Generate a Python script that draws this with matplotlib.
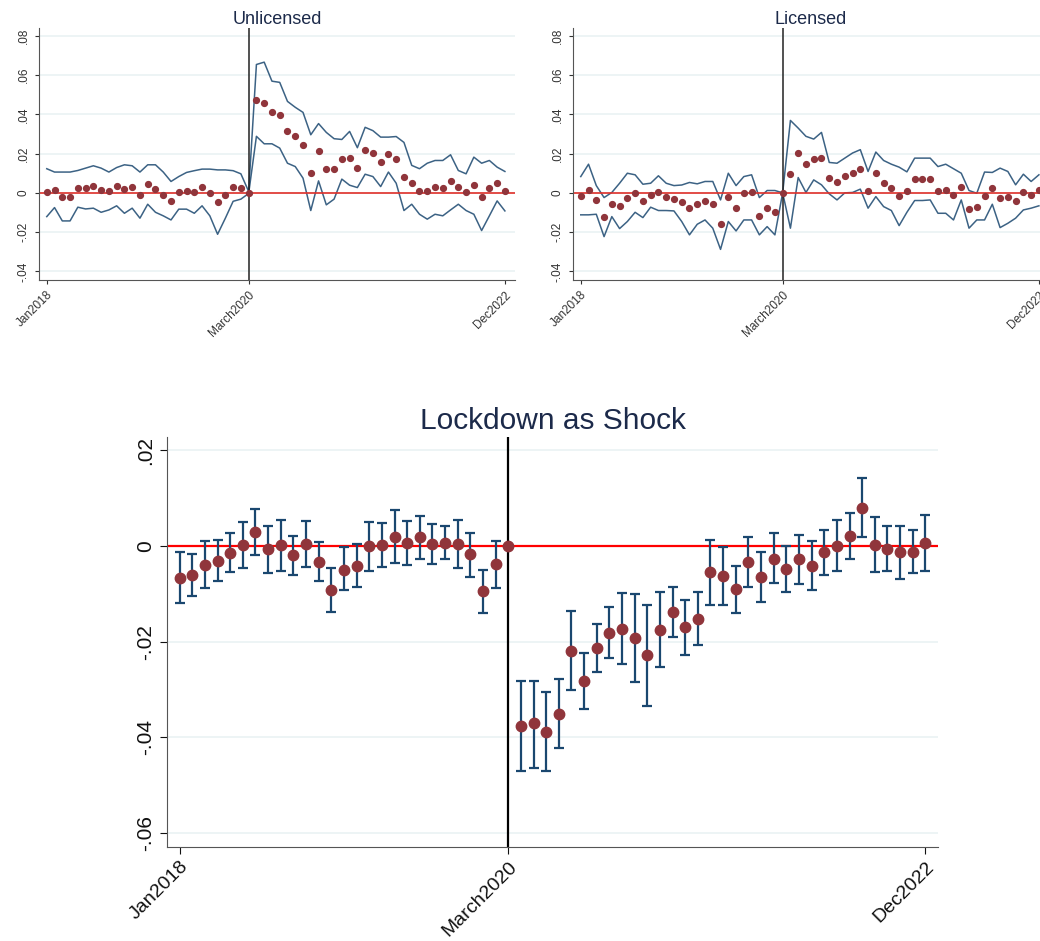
import numpy as np
import matplotlib
matplotlib.use("Agg")
import matplotlib.pyplot as plt
from matplotlib.ticker import FuncFormatter

plt.rcParams['font.family'] = ['Liberation Sans', 'DejaVu Sans']

# month index: 0 = Jan2018 ... 26 = March2020 ... 59 = Dec2022
tick_pos = [0, 26, 59]
tick_labels = ["Jan2018", "March2020", "Dec2022"]
shock_month = 26

# --- Unlicensed (top left) ---
unl_est = [0.0002, 0.0015, -0.0022, -0.0019, 0.0024, 0.0027, 0.0036, 0.0015, 0.0010, 0.0036,
           0.0020, 0.0032, -0.0012, 0.0044, 0.0020, -0.0009, -0.0039, 0.0002, 0.0010, 0.0003,
           0.0031, -0.0002, -0.0048, -0.0009, 0.0029, 0.0027, 0.0,
           0.0475, 0.0456, 0.0414, 0.0397, 0.0313, 0.0288, 0.0242, 0.0102, 0.0211, 0.0123,
           0.0123, 0.0175, 0.0179, 0.0128, 0.0218, 0.0201, 0.0158, 0.0197, 0.0170, 0.0083,
           0.0048, 0.0012, 0.0012, 0.0031, 0.0024, 0.0058, 0.0029, 0.0002, 0.0041, -0.0020,
           0.0024, 0.0048, 0.0012]
unl_hi = [0.0123, 0.0106, 0.0106, 0.0106, 0.0114, 0.0126, 0.0138, 0.0126, 0.0106, 0.0129,
          0.0143, 0.0138, 0.0106, 0.0143, 0.0143, 0.0106, 0.0058, 0.0083, 0.0104, 0.0113,
          0.0121, 0.0121, 0.0117, 0.0117, 0.0113, 0.0097, 0.0007,
          0.0654, 0.0666, 0.0569, 0.0563, 0.0466, 0.0436, 0.0410, 0.0296, 0.0353, 0.0308,
          0.0276, 0.0272, 0.0313, 0.0230, 0.0334, 0.0317, 0.0284, 0.0284, 0.0287, 0.0257,
          0.0140, 0.0123, 0.0151, 0.0165, 0.0165, 0.0194, 0.0114, 0.0097, 0.0182, 0.0151,
          0.0165, 0.0131, 0.0109]
unl_lo = [-0.0121, -0.0075, -0.0143, -0.0143, -0.0073, -0.0082, -0.0078, -0.0099, -0.0087, -0.0066,
          -0.0104, -0.0078, -0.0129, -0.0058, -0.0099, -0.0117, -0.0138, -0.0083, -0.0083, -0.0104,
          -0.0066, -0.0117, -0.0211, -0.0129, -0.0043, -0.0032, -0.0003,
          0.0288, 0.0250, 0.0250, 0.0228, 0.0151, 0.0134, 0.0075, -0.0090, 0.0061, -0.0061,
          -0.0032, 0.0070, 0.0039, 0.0027, 0.0095, 0.0083, 0.0032, 0.0106, 0.0049, -0.0090,
          -0.0058, -0.0109, -0.0134, -0.0109, -0.0117, -0.0087, -0.0058, -0.0090, -0.0109, -0.0192,
          -0.0117, -0.0041, -0.0092]

# --- Licensed (top right) ---
lic_est = [-0.0015, 0.0015, -0.0036, -0.0124, -0.0058, -0.0066, -0.0024, -0.0002, -0.0039, -0.0009,
           0.0002, -0.0019, -0.0031, -0.0049, -0.0078, -0.0058, -0.0041, -0.0058, -0.0160, -0.0022,
           -0.0078, -0.0003, 0.0002, -0.0117, -0.0075, -0.0097, 0.0,
           0.0095, 0.0203, 0.0145, 0.0170, 0.0180, 0.0078, 0.0056, 0.0088, 0.0102, 0.0121,
           0.0012, 0.0099, 0.0048, 0.0027, -0.0015, 0.0010, 0.0070, 0.0070, 0.0071, 0.0012,
           0.0015, -0.0010, 0.0029, -0.0082, -0.0070, -0.0015, 0.0024, -0.0026, -0.0019, -0.0043,
           0.0003, -0.0010, 0.0015]
lic_hi = [0.0083, 0.0146, 0.0037, -0.0024, 0.0002, 0.0049, 0.0100, 0.0092, 0.0044, 0.0049,
          0.0087, 0.0049, 0.0037, 0.0040, 0.0053, 0.0046, 0.0058, 0.0058, -0.0036, 0.0100,
          0.0037, 0.0083, 0.0092, -0.0024, 0.0012, 0.0012, 0.0,
          0.0369, 0.0330, 0.0288, 0.0274, 0.0308, 0.0155, 0.0151, 0.0177, 0.0203, 0.0220,
          0.0109, 0.0208, 0.0165, 0.0146, 0.0131, 0.0107, 0.0177, 0.0177, 0.0177, 0.0134,
          0.0146, 0.0123, 0.0100, 0.0012, -0.0002, 0.0106, 0.0104, 0.0126, 0.0109, 0.0041,
          0.0095, 0.0058, 0.0092]
lic_lo = [-0.0112, -0.0112, -0.0109, -0.0223, -0.0121, -0.0182, -0.0146, -0.0099, -0.0126, -0.0073,
          -0.0090, -0.0090, -0.0092, -0.0146, -0.0214, -0.0160, -0.0138, -0.0180, -0.0288, -0.0146,
          -0.0194, -0.0138, -0.0138, -0.0214, -0.0172, -0.0214, 0.0,
          -0.0180, 0.0078, 0.0002, 0.0066, 0.0041, -0.0005, -0.0036, 0.0, 0.0002, 0.0019,
          -0.0078, -0.0019, -0.0070, -0.0090, -0.0167, -0.0099, -0.0039, -0.0039, -0.0036, -0.0104,
          -0.0104, -0.0138, -0.0036, -0.0180, -0.0138, -0.0138, -0.0058, -0.0177, -0.0155, -0.0129,
          -0.0087, -0.0078, -0.0066]

# --- Lockdown as Shock (bottom) ---
shock_est = [-0.0066, -0.0061, -0.0039, -0.0031, -0.0014, 0.0003, 0.0029, -0.0007, 0.0003, -0.0019,
             0.0004, -0.0033, -0.0092, -0.0049, -0.0041, 0.0000, 0.0003, 0.0019, 0.0007, 0.0018,
             0.0005, 0.0007, 0.0005, -0.0017, -0.0094, -0.0037, 0.0,
             -0.0376, -0.0370, -0.0389, -0.0351, -0.0219, -0.0282, -0.0213, -0.0181, -0.0174, -0.0193,
             -0.0228, -0.0176, -0.0137, -0.0169, -0.0152, -0.0054, -0.0063, -0.0089, -0.0033, -0.0065,
             -0.0026, -0.0048, -0.0028, -0.0041, -0.0013, 0.0000, 0.0022, 0.0080, 0.0003, -0.0006,
             -0.0013, -0.0013, 0.0006]
shock_hi = [-0.0013, -0.0017, 0.0010, 0.0013, 0.0028, 0.0050, 0.0078, 0.0041, 0.0055, 0.0022,
            0.0052, 0.0008, -0.0046, -0.0002, 0.0004, 0.0050, 0.0048, 0.0076, 0.0052, 0.0063,
            0.0046, 0.0041, 0.0055, 0.0028, -0.0051, 0.0010, 0.0,
            -0.0282, -0.0282, -0.0304, -0.0277, -0.0135, -0.0224, -0.0163, -0.0128, -0.0099, -0.0101,
            -0.0124, -0.0097, -0.0085, -0.0113, -0.0097, 0.0013, -0.0001, -0.0041, 0.0020, -0.0013,
            0.0028, 0.0001, 0.0024, 0.0011, 0.0033, 0.0055, 0.0069, 0.0143, 0.0060, 0.0041,
            0.0041, 0.0033, 0.0065]
shock_lo = [-0.0118, -0.0104, -0.0087, -0.0072, -0.0054, -0.0045, -0.0019, -0.0056, -0.0053, -0.0060,
            -0.0043, -0.0074, -0.0137, -0.0092, -0.0086, -0.0053, -0.0043, -0.0035, -0.0039, -0.0028,
            -0.0037, -0.0028, -0.0046, -0.0065, -0.0139, -0.0087, 0.0,
            -0.0471, -0.0463, -0.0471, -0.0423, -0.0301, -0.0341, -0.0263, -0.0233, -0.0246, -0.0285,
            -0.0334, -0.0253, -0.0191, -0.0228, -0.0206, -0.0124, -0.0124, -0.0139, -0.0085, -0.0117,
            -0.0078, -0.0097, -0.0080, -0.0091, -0.0060, -0.0052, -0.0028, 0.0018, -0.0054, -0.0052,
            -0.0069, -0.0056, -0.0052]

MAROON = '#90353b'
NAVY = '#1a476f'
GRID = '#eaf2f3'
TITLE = '#1c2a4a'


def stata_fmt(v, pos):
    if abs(v) < 1e-12:
        return '0'
    s = f'{v:.2f}'.rstrip('0')
    return s.replace('0.', '.')


def style_axis(ax, yticks, fs, title, title_fs, pad):
    ax.set_yticks(yticks)
    ax.yaxis.set_major_formatter(FuncFormatter(stata_fmt))
    ax.set_xticks(tick_pos)
    ax.set_xticklabels(tick_labels, rotation=45, ha='right', rotation_mode='anchor')
    for lab in ax.get_yticklabels():
        lab.set_rotation(90)
        lab.set_va('center')
    ax.tick_params(labelsize=fs, colors='#333333', length=4)
    ax.grid(axis='y', color=GRID, lw=1.2)
    ax.set_axisbelow(True)
    for s in ['top', 'right']:
        ax.spines[s].set_visible(False)
    for s in ['left', 'bottom']:
        ax.spines[s].set_color('#555555')
    ax.set_title(title, fontsize=title_fs, color=TITLE, pad=pad)


W, H = 1040, 941
fig = plt.figure(figsize=(W / 100, H / 100), dpi=100)

def px_axes(l, t, r, b):
    return fig.add_axes([l / W, 1 - b / H, (r - l) / W, (b - t) / H])

x = np.arange(60)

top_panels = [(39, 515, "Unlicensed", unl_est, unl_lo, unl_hi),
              (573, 1049, "Licensed", lic_est, lic_lo, lic_hi)]
for l, r, name, est, lo, hi in top_panels:
    ax = px_axes(l, 28, r, 280)
    ax.plot(x, hi, color=NAVY, lw=1.1, alpha=0.85)
    ax.plot(x, lo, color=NAVY, lw=1.1, alpha=0.85)
    ax.axhline(0, color='#e0302a', lw=1.2)
    ax.axvline(shock_month, color='#222222', lw=1.1)
    ax.plot(x, est, 'o', color=MAROON, ms=4.2, zorder=5)
    ax.set_xlim(-1, 60.3)
    ax.set_ylim(-0.0444, 0.084)
    style_axis(ax, [-0.04, -0.02, 0, 0.02, 0.04, 0.06, 0.08], 8.5, name, 13, 3)
    ax.tick_params(length=3)

ax = px_axes(167, 437, 938, 847)
ax.axhline(0, color='red', lw=1.6, zorder=2)
ax.axvline(shock_month, color='black', lw=1.6, zorder=2)
est = np.array(shock_est)
err = [est - np.array(shock_lo), np.array(shock_hi) - est]
ax.errorbar(x, est, yerr=err, fmt='none', ecolor=NAVY, elinewidth=1.6,
            capsize=3.6, capthick=1.6, zorder=3)
ax.plot(x, est, 'o', color=MAROON, ms=7.5, zorder=5)
ax.set_xlim(-1, 60)
ax.set_ylim(-0.0629, 0.0228)
style_axis(ax, [-0.06, -0.04, -0.02, 0, 0.02], 15, "Lockdown as Shock", 21.5, 6)
ax.tick_params(colors='#111111', length=5)
ax.tick_params(axis='x', labelsize=14, pad=3)

fig.savefig('out.png', dpi=100)
